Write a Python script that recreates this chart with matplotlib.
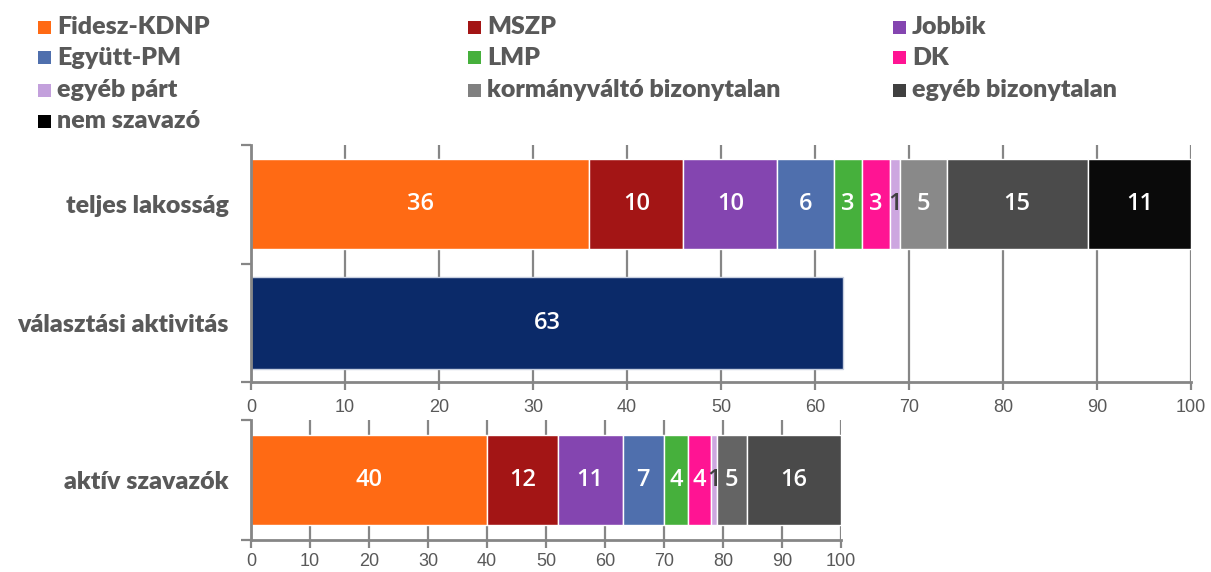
import matplotlib
matplotlib.use("Agg")
import matplotlib.pyplot as plt
from matplotlib.patches import Rectangle

# ---------------- data ----------------
parties = ['Fidesz-KDNP', 'MSZP', 'Jobbik', 'Együtt-PM', 'LMP', 'DK',
           'egyéb párt', 'kormányváltó bizonytalan', 'egyéb bizonytalan', 'nem szavazó']
top_categories = ['teljes lakosság', 'választási aktivitás']
bottom_category = 'aktív szavazók'

teljes_lakossag = [36, 10, 10, 6, 3, 3, 1, 5, 15, 11]
valasztasi_aktivitas = 63
aktiv_szavazok = [40, 12, 11, 7, 4, 4, 1, 5, 16]   # no 'nem szavazó'

x_ticks = [0, 10, 20, 30, 40, 50, 60, 70, 80, 90, 100]

# ---------------- style ----------------
colors_top = ['#ff6a14', '#a31515', '#8445b0', '#4f6fad', '#46b03c', '#ff1493',
              '#cda6e0', '#898989', '#4b4b4b', '#0a0a0a']
colors_bottom = ['#ff6a14', '#a31515', '#8445b0', '#4f6fad', '#46b03c', '#ff1493',
                 '#cda6e0', '#646464', '#4a4a4a']
legend_colors = ['#ff6a14', '#a31515', '#8445b0', '#4f6fad', '#46b03c', '#ff1493',
                 '#c3a0dc', '#808080', '#404040', '#000000']
aktivitas_color = '#0b2a69'
dark_label = '#404040'
text_grey = '#595959'
axis_grey = '#868686'
LABEL_FONT = dict(fontsize=18, fontweight='heavy', family='Lato', color=text_grey)
BAR_FONT = dict(fontsize=17, fontweight='semibold', family='Open Sans')

W, H = 1211, 572
fig = plt.figure(figsize=(W / 100, H / 100), dpi=100)
fig.patch.set_facecolor('white')


def fx(px):
    return px / W


def fy(py):
    return 1 - py / H


# ---------------- legend (manual, 3 columns, row-wise) ----------------
col_x = [38, 468, 893]
row_y = [27, 58, 90, 121]
for i, (name, col) in enumerate(zip(parties, legend_colors)):
    r, c = divmod(i, 3)
    x0, yc = col_x[c], row_y[r]
    fig.patches.append(Rectangle((fx(x0), fy(yc + 6.5)), 13 / W, 13 / H,
                                 transform=fig.transFigure, facecolor=col,
                                 edgecolor='none'))
    fig.text(fx(x0 + 19), fy(yc), name, ha='left', va='center', **LABEL_FONT)


def style_axis(ax, n_cat):
    ax.set_xlim(0, 100)
    ax.set_xticks(x_ticks)
    ax.set_axisbelow(True)
    ax.xaxis.grid(True, color=axis_grey, linewidth=1.6)
    for s in ['top', 'right']:
        ax.spines[s].set_visible(False)
    for s in ['left', 'bottom']:
        ax.spines[s].set_color(axis_grey)
        ax.spines[s].set_linewidth(2)
    ax.tick_params(axis='x', length=6, width=1.6, color=axis_grey, pad=6,
                   labelsize=13, labelcolor=text_grey)
    for lab in ax.get_xticklabels():
        lab.set_family('Liberation Sans')
    ax.set_yticks([i - 0.5 for i in range(n_cat + 1)], minor=True)
    ax.tick_params(axis='y', which='minor', length=7, width=1.6, color=axis_grey)
    ax.tick_params(axis='y', which='major', length=0, pad=16)


# ---------------- top chart ----------------
ax1 = fig.add_axes([fx(251), fy(382), (1191 - 251) / W, (382 - 145) / H])
left = 0
for name, v, c in zip(parties, teljes_lakossag, colors_top):
    cont = ax1.barh(0, v, left=left, height=0.76, color=c, edgecolor='white',
                    linewidth=1)
    ax1.bar_label(cont, labels=[str(v)], label_type='center', **BAR_FONT,
                  color=dark_label if name == 'egyéb párt' else 'white')
    left += v
cont = ax1.barh(1, valasztasi_aktivitas, height=0.78, color=aktivitas_color,
                edgecolor='#c8d0e0', linewidth=1)
ax1.bar_label(cont, labels=[str(valasztasi_aktivitas)], label_type='center',
              **BAR_FONT, color='white')
ax1.set_ylim(1.5, -0.5)
ax1.set_yticks([0, 1])
ax1.set_yticklabels(top_categories, **LABEL_FONT)
style_axis(ax1, 2)

# ---------------- bottom chart ----------------
ax2 = fig.add_axes([fx(251), fy(540), (841 - 251) / W, (540 - 420) / H])
left = 0
for name, v, c in zip(parties, aktiv_szavazok, colors_bottom):
    cont = ax2.barh(0, v, left=left, height=0.75, color=c, edgecolor='white',
                    linewidth=1)
    ax2.bar_label(cont, labels=[str(v)], label_type='center', **BAR_FONT,
                  color=dark_label if name == 'egyéb párt' else 'white')
    left += v
ax2.set_ylim(0.5, -0.5)
ax2.set_yticks([0])
ax2.set_yticklabels([bottom_category], **LABEL_FONT)
style_axis(ax2, 1)
ax2.tick_params(axis='x', pad=3)

fig.savefig('out.png', dpi=100, facecolor='white')
